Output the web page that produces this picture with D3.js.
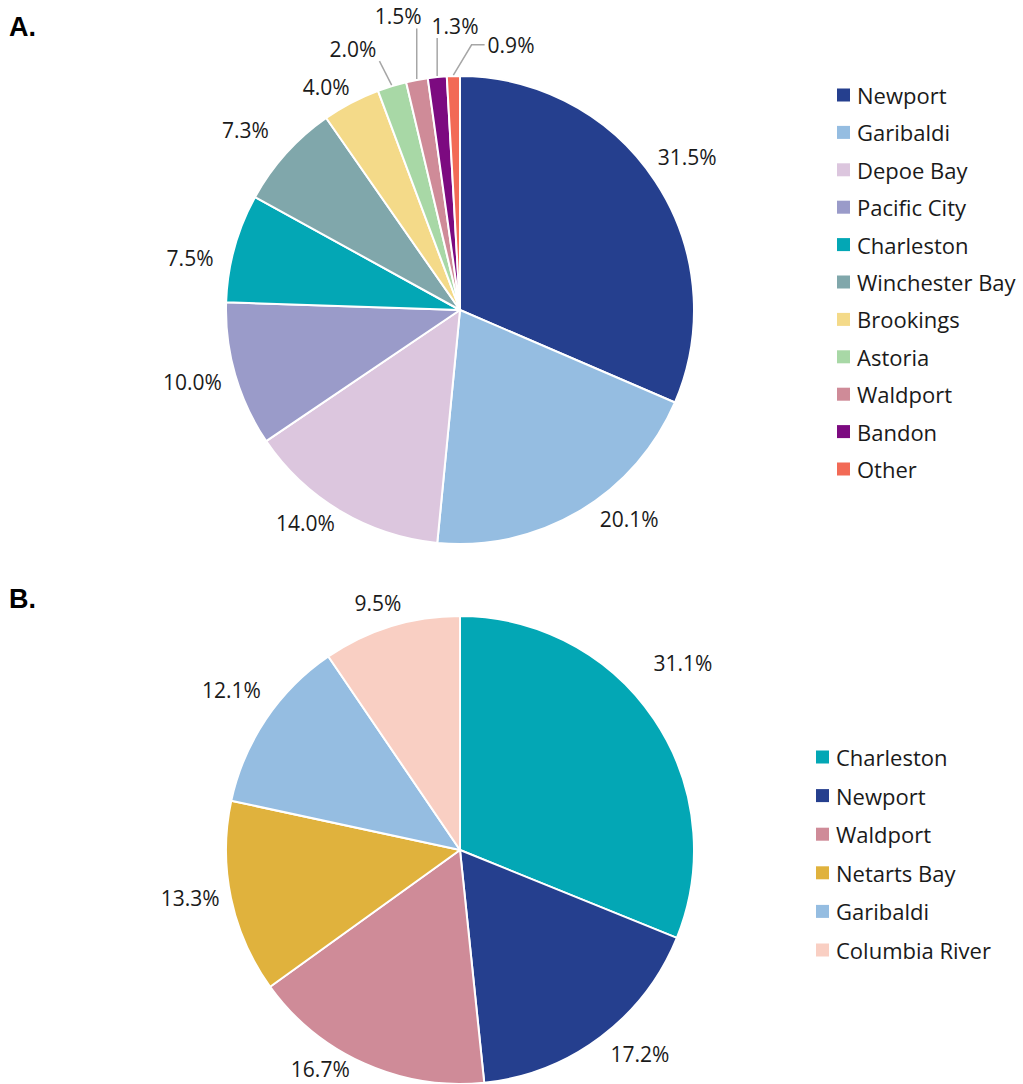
<!DOCTYPE html>
<html><head><meta charset="utf-8">
<script src="https://cdn.jsdelivr.net/npm/d3@7"></script>
<style>body{margin:0;background:#fff}svg{display:block}</style>
</head><body>
<script>
// ---- data ----
const categoriesA = ["Newport","Garibaldi","Depoe Bay","Pacific City","Charleston","Winchester Bay","Brookings","Astoria","Waldport","Bandon","Other"];
const valuesA = [31.5,20.1,14.0,10.0,7.5,7.3,4.0,2.0,1.5,1.3,0.9];
const categoriesB = ["Charleston","Newport","Waldport","Netarts Bay","Garibaldi","Columbia River"];
const valuesB = [31.1,17.2,16.7,13.3,12.1,9.5];

// ---- styling / layout ----
const colorMap = {
  "Newport":"#253f8e","Garibaldi":"#95bde1","Depoe Bay":"#dcc6de","Pacific City":"#9a9bc9",
  "Charleston":"#03a7b5","Winchester Bay":"#80a7ab","Brookings":"#f4da89","Astoria":"#a8d8a6",
  "Waldport":"#cf8b98","Bandon":"#7c0a80","Other":"#f26a56","Netarts Bay":"#e0b23d","Columbia River":"#f9cfc3"
};
// label placement (angle in degrees clockwise from top, distance from centre)
const labelPolarA = [[56,274],[141,269],[216,263],[255,277],[281,275],[310,280],[329,260],[337.7,282],[348.1,300],[359,284],[10.9,270]];
const labelPolarB = [[50,291],[138.6,272],[212.5,260],[260,274],[305,279],[341.6,260]];
const leaderA = [false,false,false,false,false,false,false,true,true,true,true];

const W = 1023, H = 1084;
const svg = d3.select("body").append("svg").attr("width",W).attr("height",H);
const FONT = "'Open Sans', 'Noto Sans', sans-serif";

function drawPie(cfg){
  const {cats, vals, cx, cy, r, labels, leaders, legX, legY, legStep, panel, panelY} = cfg;
  const g = svg.append("g").attr("transform",`translate(${cx},${cy})`);
  const pie = d3.pie().sort(null).value(d=>d)(vals);
  const arc = d3.arc().innerRadius(0).outerRadius(r);
  g.selectAll("path").data(pie).join("path")
    .attr("d",arc).attr("fill",(d,i)=>colorMap[cats[i]])
    .attr("stroke","#fff").attr("stroke-width",2).attr("stroke-linejoin","round");

  pie.forEach((d,i)=>{
    const [adeg, dist] = labels[i];
    const a = adeg*Math.PI/180;
    const lx = dist*Math.sin(a), ly = -dist*Math.cos(a);
    const txt = d3.format(".1f")(vals[i])+"%";
    const t = g.append("text").attr("x",lx).attr("y",ly)
      .attr("text-anchor","middle").attr("dominant-baseline","central")
      .attr("font-family",FONT).attr("font-size",21).attr("fill","#1a1a1a").text(txt);
    if(leaders && leaders[i]){
      const bb = t.node().getBBox();
      const mid = (d.startAngle+d.endAngle)/2;
      const px = (r+1)*Math.sin(mid), py = -(r+1)*Math.cos(mid);
      const pad = 3;
      const x0 = bb.x-pad, x1 = bb.x+bb.width+pad, y0 = bb.y+3, y1 = bb.y+bb.height-2;
      let pts;
      if(px < x0){
        const ym = bb.y+bb.height/2;
        pts = [[px,py],[x0-13,ym],[x0,ym]];
      } else {
        const ex = Math.max(x0, Math.min(x1, px)), ey = Math.max(y0, Math.min(y1, py));
        pts = [[px,py],[ex,ey]];
      }
      g.append("path").attr("d",d3.line()(pts)).attr("fill","none")
        .attr("stroke","#a6a6a6").attr("stroke-width",1.5);
    }
  });

  const lg = svg.append("g").attr("transform",`translate(${legX},${legY})`);
  cats.forEach((c,i)=>{
    const row = lg.append("g").attr("transform",`translate(0,${i*legStep})`);
    row.append("rect").attr("x",0).attr("y",-6.5).attr("width",13).attr("height",13).attr("fill",colorMap[c]);
    row.append("text").attr("x",20).attr("y",0).attr("dominant-baseline","central")
      .attr("font-family",FONT).attr("font-size",22).attr("fill","#1a1a1a").text(c);
  });

  svg.append("text").attr("x",9).attr("y",panelY).attr("font-family","'Liberation Sans', Arial, sans-serif")
    .attr("font-weight","bold").attr("font-size",27).attr("fill","#000").text(panel);
}

drawPie({cats:categoriesA, vals:valuesA, cx:460, cy:310, r:234, labels:labelPolarA, leaders:leaderA,
  legX:837, legY:95, legStep:37.4, panel:"A.", panelY:36});
drawPie({cats:categoriesB, vals:valuesB, cx:460, cy:850, r:234, labels:labelPolarB, leaders:null,
  legX:816, legY:757, legStep:38.6, panel:"B.", panelY:608});
</script>
</body></html>
